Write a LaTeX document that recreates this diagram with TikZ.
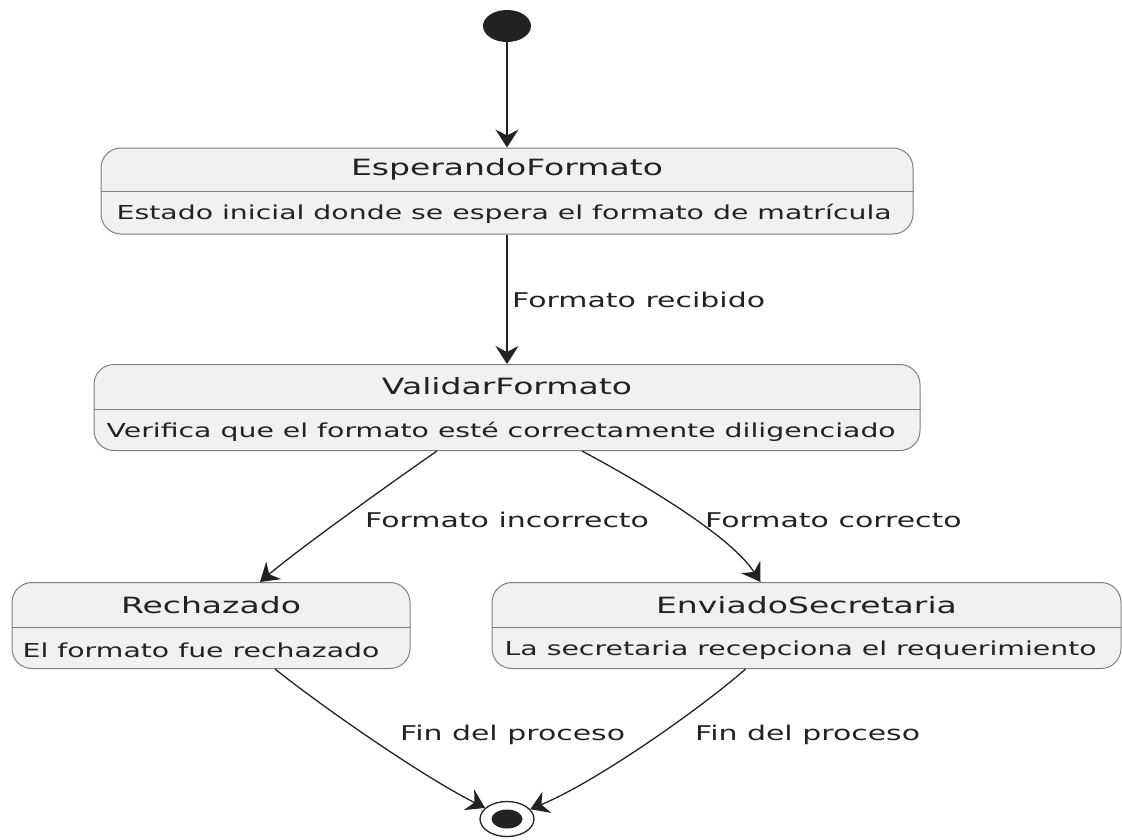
\documentclass[tikz,border=0pt]{standalone}
\usepackage{fontspec}
\setmainfont[FakeStretch=1.475]{DejaVu Sans}
\usepackage{tikz}
\usetikzlibrary{arrows.meta,positioning,calc,shapes.geometric}
\definecolor{StateFill}{HTML}{F1F1F1}
\definecolor{StateLine}{HTML}{808080}
\definecolor{Ink}{HTML}{222222}
\tikzset{
  arr/.style={-{Stealth[length=18pt,width=23pt,inset=6pt]},line width=1.3pt,draw=Ink},
  statebox/.style={draw=StateLine,fill=StateFill,rounded corners=20pt,line width=1pt,inner sep=0pt,minimum height=86pt},
  divider/.style={draw=StateLine,line width=1pt},
  titletext/.style={font=\fontsize{22.4}{27}\selectfont,text=Ink,inner sep=0pt},
  desctext/.style={font=\fontsize{19.2}{23}\selectfont,text=Ink,inner sep=0pt,anchor=west},
  lbl/.style={font=\fontsize{20.3}{25}\selectfont,text=Ink,inner sep=0pt,anchor=west},
  startdot/.style={ellipse,fill=Ink,minimum width=48pt,minimum height=32pt,inner sep=0pt},
  enddot/.style={ellipse,draw=Ink,line width=1.3pt,fill=white,minimum width=54pt,minimum height=35pt,inner sep=0pt}
}

\begin{document}
\begin{tikzpicture}[x=1pt,y=-1pt]
  \useasboundingbox (0,0) rectangle (1122,839);
  % states
  \node[startdot] (start) at (507,26) {};
  \node[statebox,minimum width=812pt] (esp) at (507,191) {};
  \node[statebox,minimum width=826pt] (val) at (507,407.5) {};
  \node[statebox,minimum width=398pt] (rech) at (211,625.5) {};
  \node[statebox,minimum width=629pt] (env) at (806.5,625.5) {};
  \node[enddot] (end) at (507,819) {};
  \node[ellipse,fill=Ink,minimum width=31pt,minimum height=19pt,inner sep=0pt] (endcore) at (end) {};
  % compartments
  \draw[divider] ($(esp.north west)+(0,44)$) -- ($(esp.north east)+(0,44)$);
  \draw[divider] ($(val.north west)+(0,45)$) -- ($(val.north east)+(0,45)$);
  \draw[divider] ($(rech.north west)+(0,45)$) -- ($(rech.north east)+(0,45)$);
  \draw[divider] ($(env.north west)+(0,45)$) -- ($(env.north east)+(0,45)$);
  \node[titletext] (espT) at ($(esp.north)+(0,22)$) {EsperandoFormato};
  \node[desctext] (espD) at ($(esp.south west)+(16,-21)$) {Estado inicial donde se espera el formato de matrícula};
  \node[titletext] (valT) at ($(val.north)+(0,22)$) {ValidarFormato};
  \node[desctext] (valD) at ($(val.south west)+(13,-19)$) {Verifica que el formato esté correctamente diligenciado};
  \node[titletext] (rechT) at ($(rech.north)+(0,23)$) {Rechazado};
  \node[desctext] (rechD) at ($(rech.south west)+(11,-19)$) {El formato fue rechazado};
  \node[titletext] (envT) at ($(env.north)+(0,23)$) {EnviadoSecretaria};
  \node[desctext] (envD) at ($(env.south west)+(13,-19)$) {La secretaria recepciona el requerimiento};
  % transitions
  \draw[arr] (start) -- (esp);
  \draw[arr] (esp) -- (val);
  \node[lbl] (recibido) at (512,300) {Formato recibido};
  \draw[arr] ($(val.south)+(-70,0)$) .. controls (395,480) and (300,548) .. ($(rech.north)+(49,0)$);
  \node[lbl] (incorrecto) at (365,520) {Formato incorrecto};
  \draw[arr] ($(val.south)+(75,0)$) .. controls (640,482) and (730,535) .. ($(env.north)+(-46,0)$);
  \node[lbl] (correcto) at (705,520) {Formato correcto};
  \draw[arr] ($(rech.south)+(64,0)$) .. controls (320,705) and (420,775) .. (end);
  \node[lbl] (finA) at (400,735) {Fin del proceso};
  \draw[arr] ($(env.south)+(-61,0)$) .. controls (705,705) and (600,780) .. (end);
  \node[lbl] (finB) at (695,735) {Fin del proceso};
\end{tikzpicture}
\end{document}
